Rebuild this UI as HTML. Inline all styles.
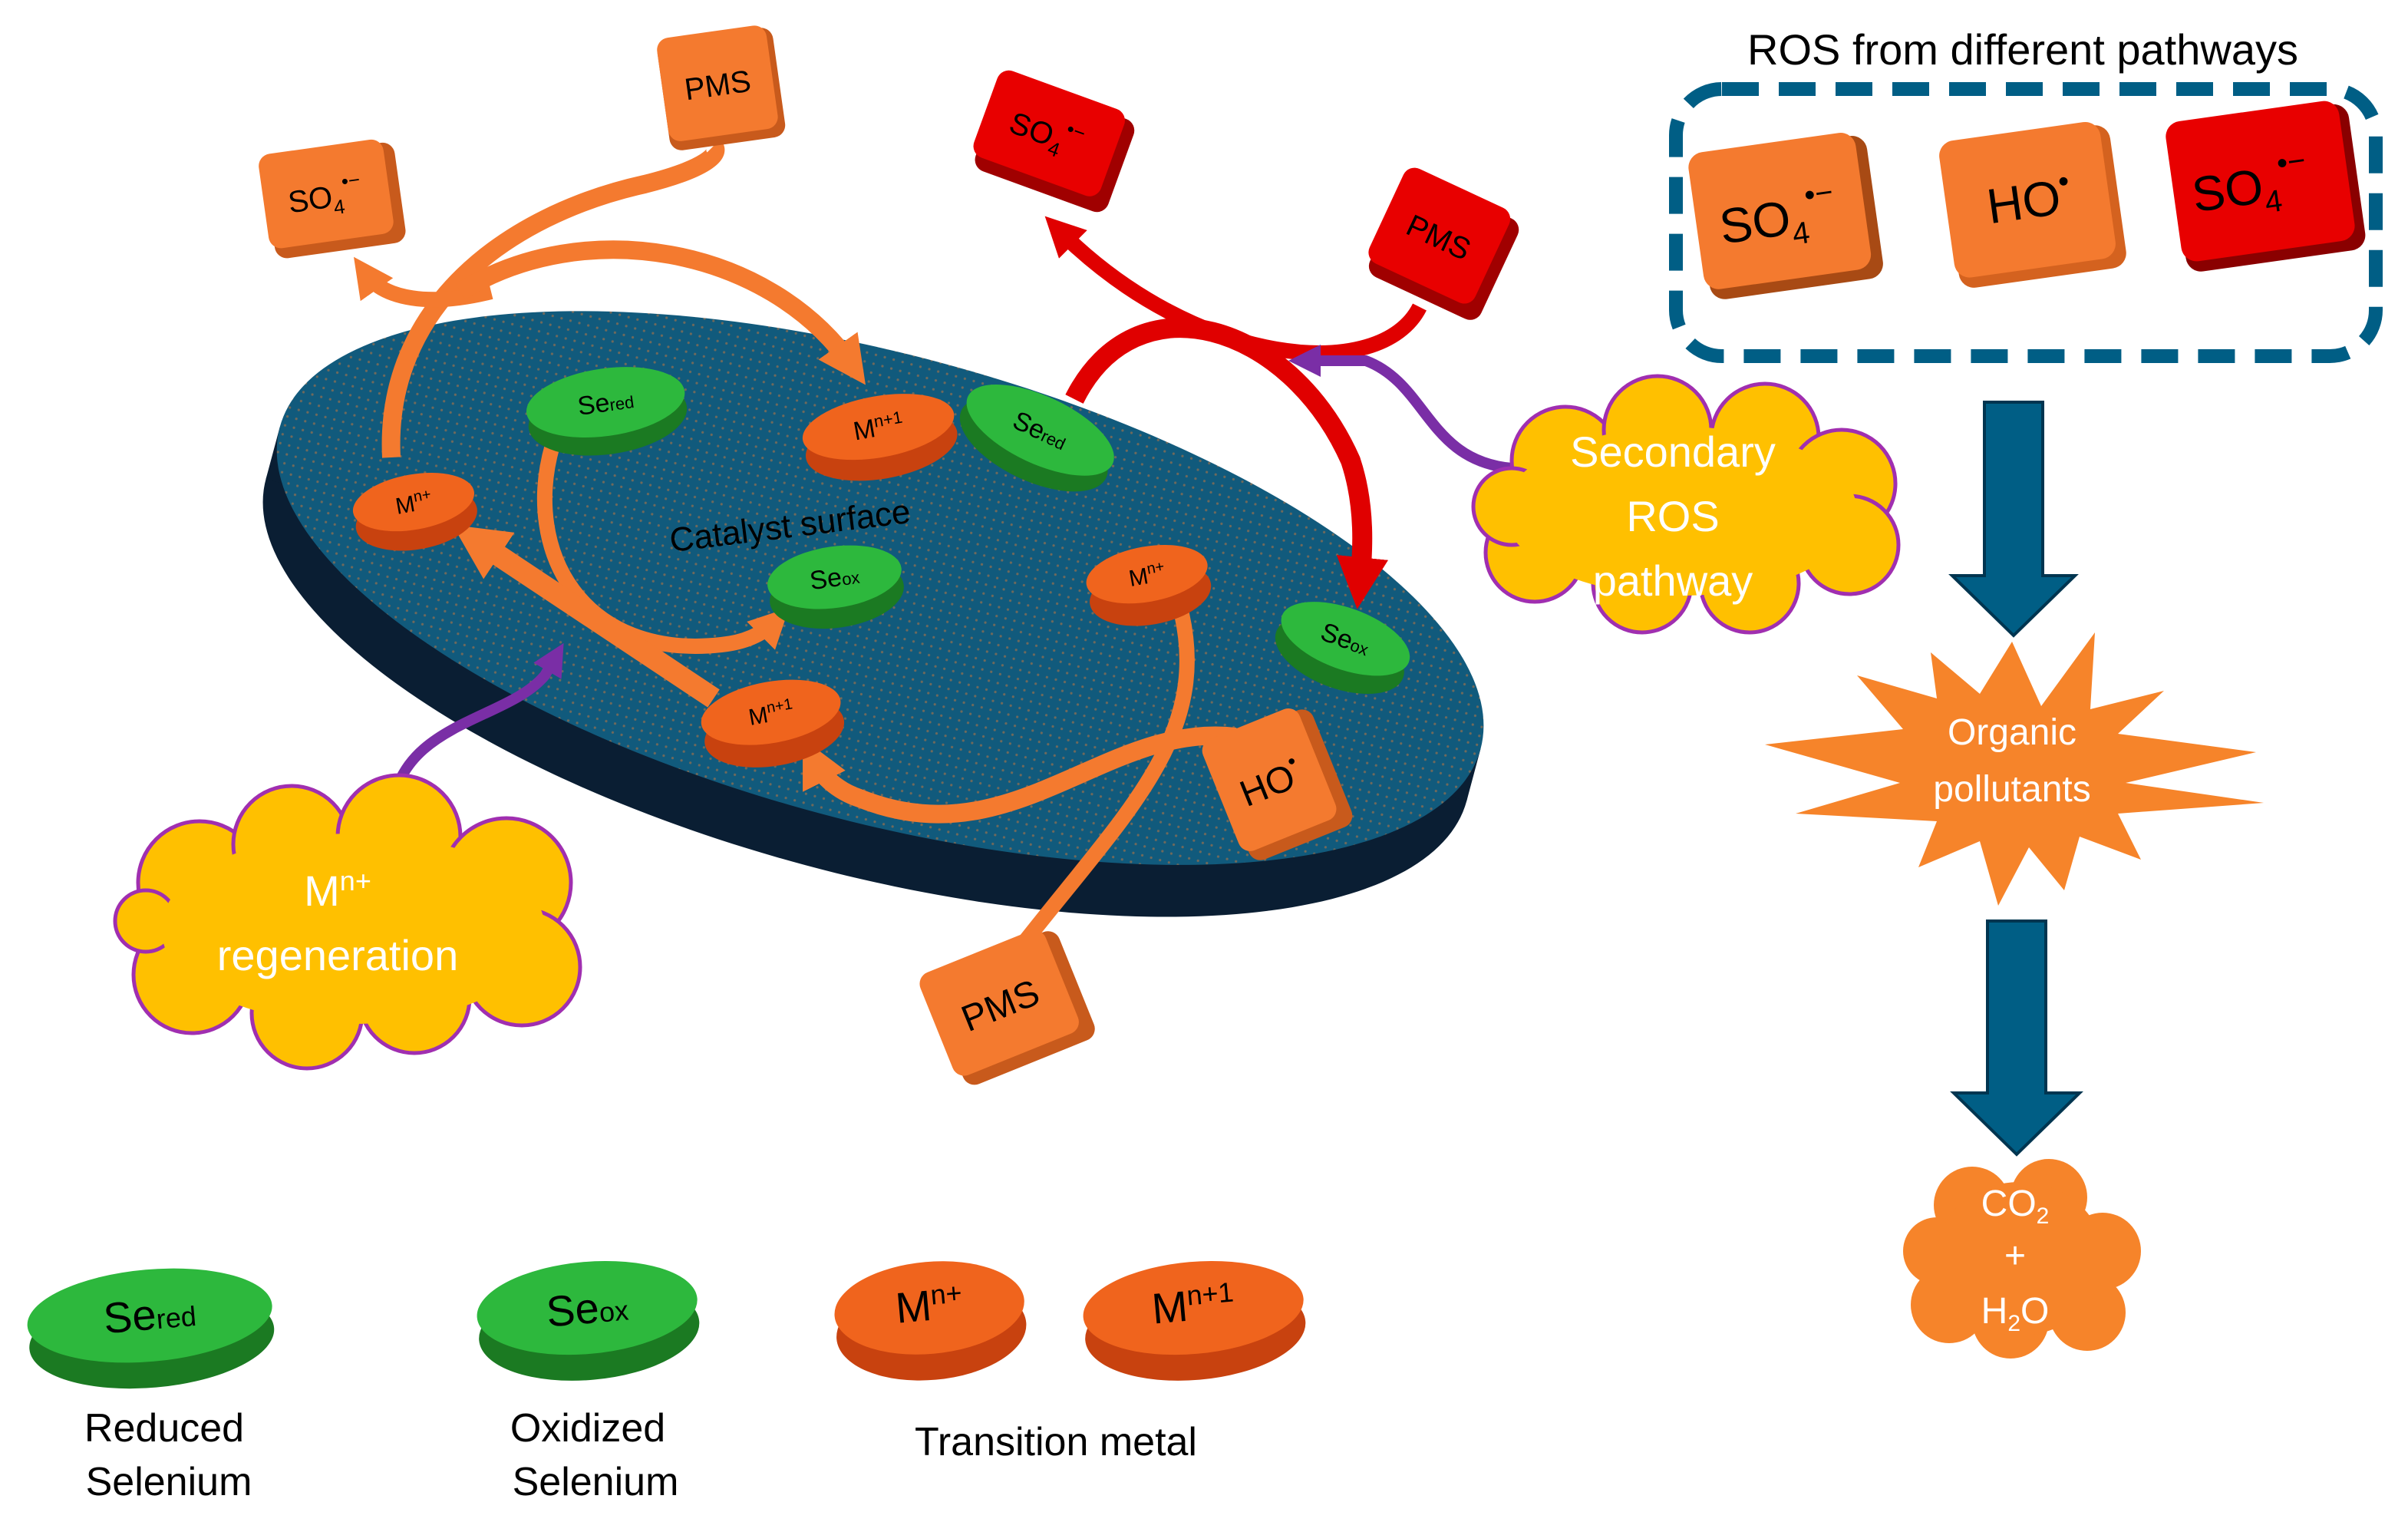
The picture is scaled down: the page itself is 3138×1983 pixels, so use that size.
<!DOCTYPE html>
<html><head><meta charset="utf-8"><style>html,body{margin:0;padding:0;background:#fff}svg{display:block}text{font-family:"Liberation Sans",sans-serif}</style></head><body>
<svg width="3138" height="1983" viewBox="0 0 1569 991.5" xmlns="http://www.w3.org/2000/svg">
<defs>
<pattern id="dots" width="6" height="6" patternUnits="userSpaceOnUse"><rect width="6" height="6" fill="#115a7c"/><circle cx="3" cy="3" r="0.8" fill="#d0783a" opacity="0.5"/></pattern>
<marker id="ao" viewBox="0 0 10 10" refX="5" refY="5" markerWidth="2.6" markerHeight="2.6" orient="auto"><path d="M0,0L10,5L0,10z" fill="#f47a2f"/></marker>
<marker id="ar" viewBox="0 0 10 10" refX="5" refY="5" markerWidth="2.6" markerHeight="2.6" orient="auto"><path d="M0,0L10,5L0,10z" fill="#e00000"/></marker>
<marker id="ap" viewBox="0 0 10 10" refX="5" refY="5" markerWidth="3" markerHeight="3" orient="auto"><path d="M0,0L10,5L0,10z" fill="#7a2ea6"/></marker>
</defs>

<!-- disk -->
<g transform="rotate(15 573 385)">
<ellipse cx="573" cy="418" rx="405" ry="152" fill="#0a1e33"/>
<rect x="168" y="383" width="810" height="35" fill="#0a1e33"/>
<ellipse cx="573" cy="383" rx="405" ry="152" fill="url(#dots)"/>
</g>
<text x="515" y="350" font-size="22" transform="rotate(-7 515 345)" text-anchor="middle" fill="#000">Catalyst surface</text>

<!-- orange arrows -->
<g fill="none" stroke="#f47a2f" stroke-linecap="butt">
<path d="M255,298 C250,200 330,140 420,120 C460,110 470,100 465,95" stroke-width="12"/>
<path d="M320,190 C280,200 250,195 238,178" stroke-width="10" marker-end="url(#ao)"/>
<path d="M300,190 C380,140 500,160 555,238" stroke-width="12" marker-end="url(#ao)"/>
<path d="M360,290 C340,360 380,430 470,420 C490,418 500,410 505,405" stroke-width="10" marker-end="url(#ao)"/>
<path d="M465,455 L310,352" stroke-width="14" marker-end="url(#ao)"/>
<path d="M770,400 C790,490 720,540 640,650" stroke-width="10"/>
<path d="M805,480 C720,470 660,560 560,520 C545,515 535,505 530,495" stroke-width="12" marker-end="url(#ao)"/>
</g>
<!-- red arrows -->
<g fill="none" stroke="#e00000">
<path d="M925,200 C900,250 780,240 690,150" stroke-width="10" marker-end="url(#ar)"/>
<path d="M700,260 C740,180 840,210 880,300 C890,330 888,360 886,380" stroke-width="13" marker-end="url(#ar)"/>
</g>
<!-- purple arrows -->
<g fill="none" stroke="#7a2ea6" stroke-width="7">
<path d="M255,530 C260,470 330,470 355,440 L362,428" marker-end="url(#ap)"/>
<path d="M985,305 C930,300 930,250 890,235 L850,235" marker-end="url(#ap)"/>
</g>

<!-- chips -->
<g font-size="17" text-anchor="middle" fill="#000">
<g transform="rotate(-8 395 265)"><ellipse cx="395" cy="272" rx="52" ry="24" fill="#1b7a22"/><ellipse cx="395" cy="262" rx="52" ry="22" fill="#2db83d"/><text x="395" y="268">Se<tspan font-size="11">red</tspan></text></g>
<g transform="rotate(-10 573 282)"><ellipse cx="573" cy="290" rx="50" ry="22" fill="#c8420f"/><ellipse cx="573" cy="278" rx="50" ry="20" fill="#f0641d"/><text x="573" y="284">M<tspan font-size="11" dy="-6">n+1</tspan></text></g>
<g transform="rotate(25 677 282)"><ellipse cx="677" cy="290" rx="52" ry="24" fill="#1b7a22"/><ellipse cx="677" cy="280" rx="52" ry="22" fill="#2db83d"/><text x="677" y="286">Se<tspan font-size="11">red</tspan></text></g>
<g transform="rotate(-10 270 330)"><ellipse cx="270" cy="338" rx="40" ry="20" fill="#c8420f"/><ellipse cx="270" cy="327" rx="40" ry="18" fill="#f0641d"/><text x="270" y="333" font-size="15">M<tspan font-size="10" dy="-6">n+</tspan></text></g>
<g transform="rotate(-8 544 378)"><ellipse cx="544" cy="387" rx="44" ry="22" fill="#1b7a22"/><ellipse cx="544" cy="376" rx="44" ry="20" fill="#2db83d"/><text x="544" y="382">Se<tspan font-size="11">ox</tspan></text></g>
<g transform="rotate(-10 748 378)"><ellipse cx="748" cy="387" rx="40" ry="20" fill="#c8420f"/><ellipse cx="748" cy="374" rx="40" ry="18" fill="#f0641d"/><text x="748" y="380" font-size="15">M<tspan font-size="10" dy="-6">n+</tspan></text></g>
<g transform="rotate(20 876 418)"><ellipse cx="876" cy="427" rx="44" ry="22" fill="#1b7a22"/><ellipse cx="876" cy="416" rx="44" ry="20" fill="#2db83d"/><text x="876" y="422">Se<tspan font-size="11">ox</tspan></text></g>
<g transform="rotate(-10 503 468)"><ellipse cx="503" cy="477" rx="46" ry="22" fill="#c8420f"/><ellipse cx="503" cy="464" rx="46" ry="20" fill="#f0641d"/><text x="503" y="470" font-size="15">M<tspan font-size="10" dy="-6">n+1</tspan></text></g>
</g>

<!-- boxes -->
<g font-size="20" text-anchor="middle" fill="#000">
<g transform="rotate(-8 470 58)"><rect x="432" y="22" width="76" height="72" rx="8" fill="#c85a1c"/><rect x="432" y="20" width="72" height="68" rx="8" fill="#f47a2f"/><text x="468" y="62">PMS</text></g>
<g transform="rotate(-8 215 130)"><rect x="175" y="98" width="86" height="66" rx="8" fill="#c85a1c"/><rect x="172" y="95" width="82" height="62" rx="8" fill="#f47a2f"/><text x="212" y="135">SO<tspan font-size="13" dy="5">4</tspan><tspan font-size="13" dy="-16">•−</tspan></text></g>
<g transform="rotate(20 686 92)"><rect x="642" y="62" width="92" height="64" rx="8" fill="#a00000"/><rect x="638" y="58" width="88" height="60" rx="8" fill="#e80000"/><text x="680" y="96">SO<tspan font-size="13" dy="5">4</tspan><tspan font-size="13" dy="-16">•−</tspan></text></g>
<g transform="rotate(25 938 158)"><rect x="902" y="124" width="80" height="72" rx="8" fill="#a00000"/><rect x="898" y="120" width="76" height="68" rx="8" fill="#e80000"/><text x="936" y="162">PMS</text></g>
<g transform="rotate(-22 830 510)"><rect x="798" y="472" width="72" height="82" rx="8" fill="#c85a1c"/><rect x="794" y="468" width="68" height="78" rx="8" fill="#f47a2f"/><text x="828" y="518" font-size="24">HO<tspan font-size="14" dy="-12">•</tspan></text></g>
<g transform="rotate(-22 655 655)"><rect x="612" y="620" width="92" height="76" rx="8" fill="#c85a1c"/><rect x="608" y="616" width="88" height="72" rx="8" fill="#f47a2f"/><text x="652" y="662" font-size="24">PMS</text></g>
</g>

<!-- clouds -->
<g fill="#ffc000" stroke="#a02fb0" stroke-width="2.5">
<g><circle cx="130" cy="575" r="40"/><circle cx="190" cy="550" r="38"/><circle cx="260" cy="545" r="40"/><circle cx="330" cy="575" r="42"/><circle cx="340" cy="630" r="38"/><circle cx="270" cy="650" r="36"/><circle cx="200" cy="660" r="36"/><circle cx="125" cy="635" r="38"/><circle cx="95" cy="600" r="20"/></g>
<g><circle cx="1020" cy="300" r="35"/><circle cx="1080" cy="280" r="35"/><circle cx="1150" cy="285" r="35"/><circle cx="1200" cy="315" r="35"/><circle cx="1205" cy="355" r="32"/><circle cx="1140" cy="380" r="32"/><circle cx="1070" cy="380" r="32"/><circle cx="1000" cy="360" r="32"/><circle cx="985" cy="330" r="25"/></g>
</g>
<g fill="#ffc000"><ellipse cx="230" cy="605" rx="125" ry="62"/><ellipse cx="1095" cy="333" rx="115" ry="55"/></g>
<g fill="#fff" text-anchor="middle" font-size="28">
<text x="220" y="590">M<tspan font-size="18" dy="-10">n+</tspan></text>
<text x="220" y="632">regeneration</text>
<text x="1090" y="304">Secondary</text>
<text x="1090" y="346">ROS</text>
<text x="1090" y="388">pathway</text>
</g>

<!-- right panel -->
<text x="1318" y="42" font-size="28" text-anchor="middle" fill="#000">ROS from different pathways</text>
<rect x="1092" y="58" width="456" height="174" rx="30" fill="none" stroke="#005e85" stroke-width="9" stroke-dasharray="24 13"/>
<g text-anchor="middle" fill="#000" font-size="32">
<g transform="rotate(-8 1163 140)"><rect x="1108" y="95" width="114" height="94" rx="10" fill="#a84a14"/><rect x="1105" y="92" width="110" height="90" rx="10" fill="#f47a2f"/><text x="1158" y="153">SO<tspan font-size="20" dy="7">4</tspan><tspan font-size="20" dy="-24">•−</tspan></text></g>
<g transform="rotate(-8 1322 130)"><rect x="1270" y="88" width="110" height="94" rx="10" fill="#d4621f"/><rect x="1268" y="85" width="106" height="90" rx="10" fill="#f47a2f"/><text x="1322" y="142">HO<tspan font-size="20" dy="-14">•</tspan></text></g>
<g transform="rotate(-8 1473 120)"><rect x="1418" y="75" width="118" height="96" rx="10" fill="#8a0000"/><rect x="1416" y="72" width="114" height="92" rx="10" fill="#e80000"/><text x="1466" y="132">SO<tspan font-size="20" dy="7">4</tspan><tspan font-size="20" dy="-24">•−</tspan></text></g>
</g>
<path d="M1293,262 L1331,262 L1331,375 L1352,375 L1312,414 L1272,375 L1293,375 Z" fill="#005e85" stroke="#003550" stroke-width="2"/>
<path d="M1295,600 L1333,600 L1333,712 L1355,712 L1314,752 L1273,712 L1295,712 Z" fill="#005e85" stroke="#003550" stroke-width="2"/>
<polygon points="1311,418 1330,460 1365,412 1362,462 1410,450 1380,478 1470,490 1385,510 1475,523 1380,530 1395,560 1355,545 1345,580 1322,552 1302,590 1290,548 1250,565 1262,535 1170,530 1238,510 1150,485 1240,475 1210,440 1262,455 1258,425 1290,452" fill="#f6842a"/>
<text x="1311" y="485" font-size="24" fill="#fff" text-anchor="middle">Organic</text>
<text x="1311" y="522" font-size="24" fill="#fff" text-anchor="middle">pollutants</text>
<g fill="#f6842a"><circle cx="1285" cy="785" r="25"/><circle cx="1335" cy="780" r="25"/><circle cx="1370" cy="815" r="25"/><circle cx="1360" cy="855" r="25"/><circle cx="1310" cy="860" r="25"/><circle cx="1270" cy="850" r="25"/><circle cx="1262" cy="815" r="22"/><ellipse cx="1316" cy="820" rx="55" ry="50"/></g>
<g fill="#fff" text-anchor="middle" font-size="24"><text x="1313" y="792">CO<tspan font-size="15" dy="5">2</tspan></text><text x="1313" y="826">+</text><text x="1313" y="862">H<tspan font-size="15" dy="5">2</tspan><tspan dy="-5">O</tspan></text></g>

<!-- legend -->
<g text-anchor="middle" fill="#000">
<g transform="rotate(-5 98 862)"><ellipse cx="98" cy="872" rx="80" ry="32" fill="#1b7a22"/><ellipse cx="98" cy="857" rx="80" ry="30" fill="#2db83d"/><text x="98" y="866" font-size="28">Se<tspan font-size="18">red</tspan></text></g>
<g transform="rotate(-5 383 857)"><ellipse cx="383" cy="867" rx="72" ry="32" fill="#1b7a22"/><ellipse cx="383" cy="852" rx="72" ry="30" fill="#2db83d"/><text x="383" y="862" font-size="28">Se<tspan font-size="18">ox</tspan></text></g>
<g transform="rotate(-5 606 857)"><ellipse cx="606" cy="867" rx="62" ry="32" fill="#c8420f"/><ellipse cx="606" cy="852" rx="62" ry="30" fill="#f0641d"/><text x="606" y="860" font-size="28">M<tspan font-size="18" dy="-10">n+</tspan></text></g>
<g transform="rotate(-5 778 857)"><ellipse cx="778" cy="867" rx="72" ry="32" fill="#c8420f"/><ellipse cx="778" cy="852" rx="72" ry="30" fill="#f0641d"/><text x="778" y="860" font-size="28">M<tspan font-size="18" dy="-10">n+1</tspan></text></g>
<g font-size="26"><text x="107" y="939">Reduced</text><text x="110" y="974">Selenium</text><text x="383" y="939">Oxidized</text><text x="388" y="974">Selenium</text><text x="688" y="948">Transition metal</text></g>
</g>
</svg>
</body></html>
